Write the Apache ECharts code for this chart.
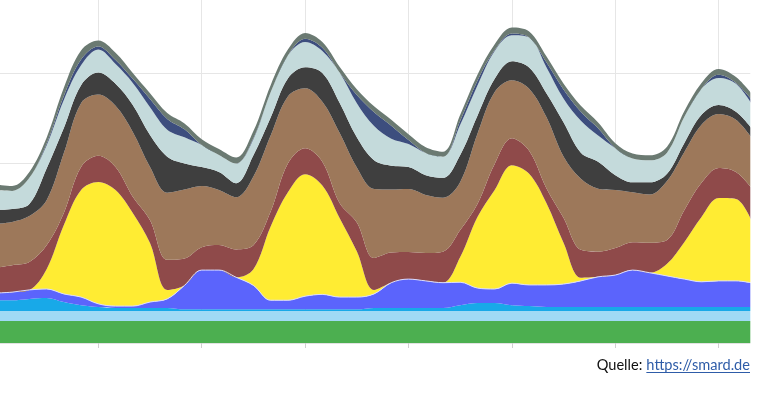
<!DOCTYPE html>
<html><head><meta charset="utf-8">
<script src="https://cdn.jsdelivr.net/npm/echarts@6/dist/echarts.min.js"></script>
<style>html,body{margin:0;padding:0;background:#fff;overflow:hidden;width:759px;height:396px;position:relative}
#c{position:absolute;left:-20px;top:-30px;width:800px;height:430px}</style>
</head><body><div id="c"></div>
<script>
// hours since the first midnight of the period
const hours = ['0','2','4','6','8','10','12','14','16','18','20','22','24','26','28','30','32','34','36','38','40','42','44','46','48','50','52','54','56','58','60','62','64','66','68','70','72','74','76','78','80','82','84','86','88'];
// generation in GW, stacked bottom to top
const biomasse = [4.9,4.9,4.9,4.9,4.9,4.9,4.9,4.9,4.9,4.9,4.9,4.9,4.9,4.9,4.9,4.9,4.9,4.9,4.9,4.9,4.9,4.9,4.9,4.9,4.9,4.9,4.9,4.9,4.9,4.9,4.9,4.9,4.9,4.9,4.9,4.9,4.9,4.9,4.9,4.9,4.9,4.9,4.9,4.9,4.9];
const wasserkraft = [2.2,2.2,2.2,2.2,2.2,2.2,2.2,2.2,2.2,2.2,2.2,2.2,2.2,2.2,2.2,2.2,2.2,2.2,2.2,2.2,2.2,2.2,2.2,2.2,2.2,2.2,2.2,2.2,2.2,2.2,2.2,2.2,2.2,2.2,2.2,2.2,2.2,2.2,2.2,2.2,2.2,2.2,2.2,2.2,2.2];
const windOffshore = [2.4,2.4,2.7,2.9,2.0,1.3,0.9,0.7,0.7,0.7,0.7,0.4,0.4,0.4,0.4,0.4,0.4,0.4,0.4,0.4,0.4,0.4,0.7,0.7,0.7,0.7,0.7,1.3,1.8,1.8,1.3,1.1,0.9,0.9,0.9,0.9,0.9,0.9,0.9,0.9,0.9,0.9,0.9,0.9,0.9];
const windOnshore = [1.6,1.8,2.0,2.0,1.8,1.8,0.7,0.4,0.4,1.3,2.0,5.3,8.7,8.7,7.1,5.3,2.0,2.0,2.9,3.3,2.7,2.7,3.1,5.6,6.4,6.0,5.6,5.1,3.3,3.1,4.9,4.7,4.9,5.1,5.8,6.7,7.1,8.2,7.6,6.9,6.2,5.6,5.8,5.8,5.3];
const photovoltaik = [0,0,0,4.4,15.3,23.8,27.1,25.8,20.7,13.1,2.0,0,0,0,0,3.6,16.4,24.0,27.1,24.2,17.6,10.2,0.9,0,0,0,0,5.6,15.8,22.0,26.2,24.7,18.2,9.1,0.7,0,0,0,0,2.7,8.2,14.4,18.4,18.2,13.1];
const kernenergie = [5.6,6.0,6.2,5.3,2.7,5.1,5.8,5.1,3.6,5.1,6.7,6.0,5.1,5.6,6.2,5.3,3.3,6.4,5.8,5.3,3.3,6.4,7.1,6.7,6.0,6.2,6.9,6.0,2.9,5.8,6.0,5.1,3.3,5.6,6.2,5.6,6.0,6.2,6.7,5.3,7.1,7.6,6.7,6.0,7.6];
const braunkohle = [9.8,9.6,10.2,10.0,13.3,14.2,13.6,13.6,14.4,11.8,14.9,15.3,13.6,12.2,11.6,15.3,16.9,14.9,13.3,13.3,15.6,12.2,15.3,14.0,14.0,12.9,12.0,10.7,15.6,16.0,12.9,13.8,15.8,13.6,15.8,14.0,12.9,11.1,10.7,13.1,12.9,12.9,12.0,11.6,11.1];
const steinkohle = [3.1,2.9,2.7,7.1,5.6,4.0,4.9,4.9,6.0,7.1,8.0,5.8,4.2,4.0,3.1,4.7,4.0,4.0,4.7,6.4,6.7,6.7,6.4,5.3,4.9,4.4,4.4,6.0,4.0,2.9,4.2,4.7,5.3,7.6,5.8,6.0,3.3,2.2,2.7,1.6,2.0,2.2,2.0,1.8,2.2];
const erdgas = [4.4,4.0,5.8,5.1,6.2,4.4,5.1,4.4,4.9,6.2,6.0,5.8,4.9,3.8,4.4,3.6,5.6,5.1,5.6,4.9,6.7,7.6,7.6,6.0,5.1,4.9,4.7,6.7,6.7,6.2,5.8,6.7,5.8,5.3,7.1,5.8,6.0,5.3,4.9,4.7,5.8,5.8,6.0,6.2,5.3];
const pumpspeicher = [0,0,0,0.4,0.9,1.3,0.7,0.9,0.9,1.8,2.4,1.8,0,0,0,0.2,0,0,0.7,0.7,0,1.8,3.1,2.9,0.9,0,0,0.9,1.1,0.2,0.4,0,1.1,2.0,2.0,1.6,0,0,0,0,0,0,0.7,0.2,1.1];
const sonstigeKonv = [1.3,1.1,1.3,1.3,1.8,2.0,1.3,1.6,1.3,1.3,1.3,1.3,1.3,1.3,1.3,1.6,1.6,1.3,1.3,1.3,1.3,1.3,1.3,1.3,1.3,1.3,1.1,1.3,1.3,1.3,1.3,1.3,1.3,1.3,1.3,1.3,1.1,1.1,1.1,1.3,1.3,1.3,1.3,1.3,1.3];

const sourceLabel = 'Quelle:';
const sourceLink = 'https://smard.de';

const layers = [
  {name:'Biomasse', data:biomasse, color:'#4caf50'},
  {name:'Wasserkraft', data:wasserkraft, color:'#a0daf5'},
  {name:'Wind Offshore', data:windOffshore, color:'#18a9e8'},
  {name:'Wind Onshore', data:windOnshore, color:'#5b64fc', line:true},
  {name:'Photovoltaik', data:photovoltaik, color:'#ffec33'},
  {name:'Kernenergie', data:kernenergie, color:'#8f4a4a'},
  {name:'Braunkohle', data:braunkohle, color:'#9d785a'},
  {name:'Steinkohle', data:steinkohle, color:'#3f3f3f'},
  {name:'Erdgas', data:erdgas, color:'#c4dadb'},
  {name:'Pumpspeicher', data:pumpspeicher, color:'#3d4e7e'},
  {name:'Sonstige Konventionelle', data:sonstigeKonv, color:'#6b7a72'}
];

const series = layers.map(l => ({
  name: l.name, type: 'line', stack: 'total', smooth: 0.35, symbol: 'none', showSymbol: false,
  lineStyle: l.line ? {width: 1, color: '#d9dcff'} : {width: 0},
  areaStyle: {color: l.color, opacity: 1},
  data: l.data
}));

// the chart div is shifted by (-20, -30) inside the window
const OX = 20, OY = 30;
const ctx = document.createElement('canvas').getContext('2d');
const FONT = '14.6px Lato';
ctx.font = FONT;
const wLink = ctx.measureText(sourceLink).width;
const wLabel = ctx.measureText(sourceLabel).width;
const linkRight = 750 + OX;
const linkX = linkRight - wLink;
const labelX = linkX - 4 - wLabel;

const chart = echarts.init(document.getElementById('c'), null, {renderer: 'canvas'});
chart.setOption({
  animation: false,
  backgroundColor: '#fff',
  grid: {left: 14.9, right: 26.8, top: 13, bottom: 57, containLabel: false},
  xAxis: {
    type: 'category', data: hours, boundaryGap: false,
    axisLabel: {show: false},
    axisLine: {show: true, lineStyle: {color: '#e2e2e2', width: 1}},
    axisTick: {show: true, length: 5, interval: 5, lineStyle: {color: '#d0d0d0'}},
    splitLine: {show: true, interval: 5, lineStyle: {color: '#e6e6e6', width: 1}}
  },
  yAxis: {
    type: 'value', min: 0, max: 80, interval: 20,
    axisLabel: {show: false}, axisLine: {show: false}, axisTick: {show: false},
    splitLine: {show: true, lineStyle: {color: '#e6e6e6', width: 1}}
  },
  series: series,
  graphic: [
    {type: 'rect', z: 100, shape: {x: 750.3 + OX, y: 0, width: 40, height: 345 + OY}, style: {fill: '#fff'}},
    {type: 'text', z: 101, x: labelX, y: 365 + OY, style: {text: sourceLabel, font: FONT, fill: '#111', verticalAlign: 'middle'}},
    {type: 'text', z: 101, x: linkX, y: 365 + OY, style: {text: sourceLink, font: FONT, fill: '#2e5ca8', verticalAlign: 'middle'}},
    {type: 'line', z: 101, shape: {x1: linkX, y1: 372.5 + OY, x2: linkRight, y2: 372.5 + OY}, style: {stroke: '#2e5ca8', lineWidth: 1}}
  ]
});
</script></body></html>
